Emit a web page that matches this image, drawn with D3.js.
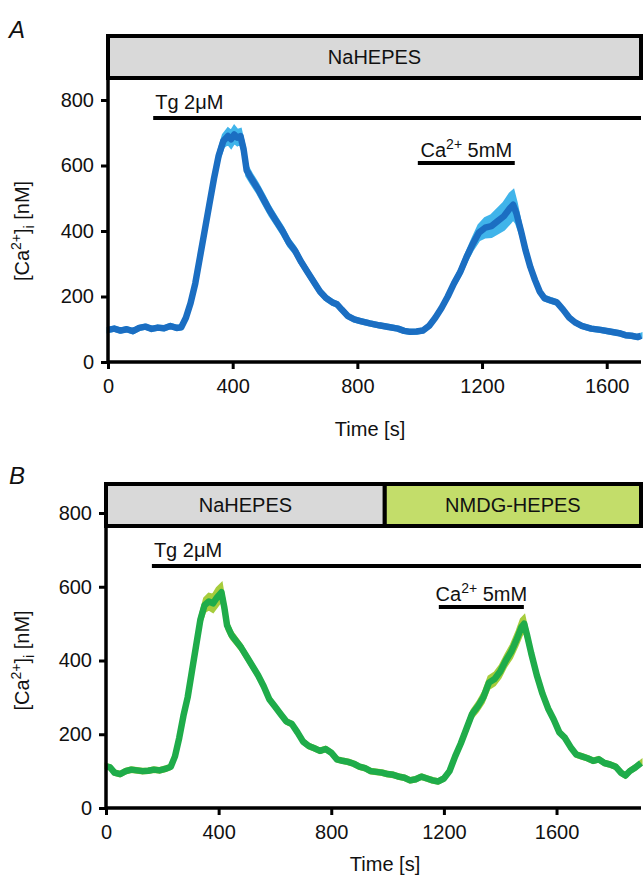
<!DOCTYPE html>
<html>
<head>
<meta charset="utf-8">
<script src="https://cdn.jsdelivr.net/npm/d3@7"></script>
<style>
  body { margin: 0; background: #fff; }
  svg text { font-family: "Liberation Sans", Arial, sans-serif; fill: #111; }
</style>
</head>
<body>
<div id="chart"></div>
<script>
// Panel A: NaHEPES throughout
var timeA = [0, 20, 40, 60, 80, 100, 120, 140, 160, 180, 200, 220, 235, 250, 265, 280, 295, 310, 325, 340,
  355, 370, 385, 395, 405, 415, 425, 435, 445, 460, 480, 500, 520, 540, 560, 580, 600, 620, 640, 660,
  680, 700, 720, 735, 750, 770, 790, 810, 840, 870, 900, 930, 950, 970, 990, 1010, 1030, 1050, 1070, 1090,
  1110, 1130, 1150, 1170, 1190, 1210, 1230, 1250, 1270, 1290, 1300, 1310, 1325, 1340, 1355, 1370, 1385, 1400, 1420, 1440,
  1460, 1480, 1500, 1520, 1550, 1580, 1610, 1640, 1660, 1680, 1700, 1710];
var caA = [98, 102, 96, 100, 94, 104, 108, 101, 105, 103, 110, 104, 106, 135, 180, 240, 320, 400, 480, 560,
  630, 675, 690, 680, 695, 685, 690, 650, 585, 560, 530, 495, 460, 430, 400, 365, 340, 305, 275, 245,
  215, 195, 182, 176, 160, 140, 130, 125, 118, 112, 107, 102, 95, 92, 93, 96, 110, 135, 165, 200,
  240, 275, 320, 360, 395, 410, 415, 430, 445, 470, 480, 455, 400, 340, 290, 250, 215, 195, 188, 182,
  160, 135, 120, 110, 102, 98, 93, 88, 82, 80, 76, 80];
var semA = [5, 5, 5, 5, 5, 5, 5, 5, 5, 5, 5, 5, 5, 5, 6, 6, 7, 8, 9, 10,
  14, 18, 22, 24, 24, 22, 20, 18, 16, 15, 14, 14, 13, 12, 12, 11, 10, 9, 8, 8,
  7, 7, 6, 6, 6, 5, 5, 5, 5, 5, 5, 5, 5, 5, 5, 5, 5, 6, 6, 7,
  8, 10, 12, 16, 22, 28, 32, 36, 40, 44, 42, 30, 15, 10, 8, 7, 6, 6, 6, 6,
  5, 5, 5, 5, 5, 5, 5, 5, 5, 5, 5, 5];

// Panel B: NaHEPES then NMDG-HEPES
var timeB = [0, 15, 30, 50, 70, 90, 110, 130, 150, 170, 190, 210, 230, 245, 260, 275, 290, 305, 320, 335,
  350, 365, 380, 395, 410, 420, 430, 445, 460, 480, 500, 520, 540, 560, 580, 600, 620, 640, 660, 680,
  700, 720, 740, 760, 780, 800, 820, 840, 860, 880, 900, 920, 940, 960, 980, 1000, 1020, 1040, 1060, 1080,
  1100, 1120, 1140, 1160, 1180, 1200, 1220, 1240, 1260, 1280, 1300, 1320, 1340, 1360, 1380, 1400, 1420, 1440, 1460, 1475,
  1485, 1495, 1510, 1530, 1550, 1570, 1590, 1610, 1630, 1650, 1670, 1690, 1710, 1730, 1750, 1770, 1790, 1810, 1830, 1845,
  1860, 1880, 1900];
var caB = [113, 110, 96, 92, 100, 104, 102, 100, 101, 104, 102, 106, 112, 140, 190, 250, 300, 370, 440, 510,
  550, 560, 555, 572, 585, 545, 495, 470, 455, 435, 410, 385, 360, 330, 295, 275, 255, 235, 228, 205,
  180, 168, 162, 155, 160, 150, 132, 128, 125, 120, 112, 108, 100, 98, 96, 92, 90, 85, 82, 75,
  78, 85, 80, 75, 72, 80, 100, 140, 175, 215, 255, 275, 300, 340, 350, 370, 400, 425, 460, 490,
  500, 470, 420, 360, 310, 270, 240, 205, 190, 165, 145, 140, 135, 128, 132, 122, 118, 112, 95, 88,
  100, 110, 122];
var semB = [5, 5, 5, 5, 5, 5, 5, 5, 5, 5, 5, 5, 5, 5, 6, 6, 7, 8, 10, 14,
  18, 20, 22, 24, 22, 16, 12, 10, 9, 8, 7, 7, 6, 6, 6, 5, 5, 5, 5, 5,
  5, 5, 5, 5, 5, 5, 5, 5, 5, 5, 5, 5, 5, 5, 5, 5, 5, 5, 5, 5,
  5, 5, 5, 5, 5, 5, 6, 6, 7, 8, 10, 12, 14, 16, 16, 16, 16, 18, 20, 22,
  20, 14, 10, 8, 7, 6, 6, 5, 5, 5, 5, 5, 5, 5, 5, 5, 5, 5, 5, 5,
  5, 5, 5];

var yTicks = [0, 200, 400, 600, 800];
var xTicks = [0, 400, 800, 1200, 1600];

var width = 644, height = 879;
var fs = "20px";
var svg = d3.select("#chart").append("svg")
  .attr("width", width)
  .attr("height", height);

function drawPanel(p) {
  var x = d3.scaleLinear().domain([0, p.xMax]).range([p.left, 641]);
  var y = d3.scaleLinear().domain([0, 800]).range([p.bottom, p.top800]);
  var g = svg.append("g");

  // panel letter
  g.append("text")
    .attr("x", 9).attr("y", p.letterY)
    .style("font-size", "24px").style("font-style", "italic")
    .text(p.letter);

  // solution boxes
  p.boxes.forEach(function(b) {
    var x0 = x(b.from), x1 = Math.min(x(b.to), 641);
    g.append("rect")
      .attr("x", x0).attr("y", p.boxTop)
      .attr("width", x1 - x0).attr("height", p.boxH)
      .attr("fill", b.color)
      .attr("stroke", "#000").attr("stroke-width", 4);
    g.append("text")
      .attr("x", (x0 + x1) / 2).attr("y", p.boxTop + p.boxH / 2 + 7)
      .attr("text-anchor", "middle")
      .style("font-size", fs)
      .text(b.name);
  });

  // band then mean trace
  var data = p.time.map(function(t, i) { return {t: t, v: p.ca[i], s: p.sem[i]}; });
  g.append("path")
    .datum(data)
    .attr("fill", p.bandColor)
    .attr("stroke", p.bandColor)
    .attr("stroke-width", 3)
    .attr("d", d3.area()
      .x(function(d) { return x(d.t); })
      .y0(function(d) { return y(d.v - d.s); })
      .y1(function(d) { return y(d.v + d.s); }));
  g.append("path")
    .datum(data)
    .attr("fill", "none")
    .attr("stroke", p.lineColor)
    .attr("stroke-width", 6.5)
    .attr("stroke-linejoin", "round")
    .attr("d", d3.line()
      .x(function(d) { return x(d.t); })
      .y(function(d) { return y(d.v); }));

  // Tg bar
  g.append("line")
    .attr("x1", x(p.tgStart)).attr("x2", 641)
    .attr("y1", p.tgY).attr("y2", p.tgY)
    .attr("stroke", "#000").attr("stroke-width", 4);
  g.append("text")
    .attr("x", x(p.tgStart) + 2).attr("y", p.tgY - 9)
    .style("font-size", fs)
    .text("Tg 2\u03BCM");

  // Ca bar
  g.append("line")
    .attr("x1", x(p.caStart)).attr("x2", x(p.caEnd))
    .attr("y1", p.caY).attr("y2", p.caY)
    .attr("stroke", "#000").attr("stroke-width", 4);
  var ct = g.append("text")
    .attr("x", (x(p.caStart) + x(p.caEnd)) / 2).attr("y", p.caY - 6)
    .attr("text-anchor", "middle")
    .style("font-size", fs);
  ct.append("tspan").text("Ca");
  ct.append("tspan").attr("dy", -8).style("font-size", "14px").text("2+");
  ct.append("tspan").attr("dy", 8).text(" 5mM");

  // axes
  var xAxis = g.append("g")
    .attr("transform", "translate(0," + p.bottom + ")")
    .call(d3.axisBottom(x).tickValues(xTicks).tickFormat(d3.format("d"))
      .tickSize(7).tickPadding(10).tickSizeOuter(0));
  var yAxis = g.append("g")
    .attr("transform", "translate(" + p.left + ",0)")
    .call(d3.axisLeft(y).tickValues(yTicks).tickSize(7).tickPadding(7).tickSizeOuter(0));
  [xAxis, yAxis].forEach(function(a) {
    a.select(".domain").attr("stroke", "#000").attr("stroke-width", 3.5);
    a.selectAll(".tick line").attr("stroke", "#000").attr("stroke-width", 3);
    a.selectAll(".tick text").style("font-size", fs).attr("fill", "#111");
  });
  yAxis.select(".domain").attr("d", "M0," + p.bottom + "V" + (p.boxTop + p.boxH - 10));
  xAxis.select(".domain").attr("d", "M" + p.left + ",0H641");

  // axis titles
  g.append("text")
    .attr("x", p.titleX).attr("y", p.titleY)
    .attr("text-anchor", "middle")
    .style("font-size", fs)
    .text("Time [s]");
  var yl = g.append("text")
    .attr("transform", "translate(29," + y(400) + ") rotate(-90)")
    .attr("text-anchor", "middle")
    .style("font-size", fs);
  yl.append("tspan").text("[Ca");
  yl.append("tspan").attr("dy", -8).style("font-size", "14px").text("2+");
  yl.append("tspan").attr("dy", 8).text("]");
  yl.append("tspan").attr("dy", 5).style("font-size", "14px").text("i");
  yl.append("tspan").attr("dy", -5).text(" [nM]");
}

drawPanel({
  letter: "A", letterY: 38,
  time: timeA, ca: caA, sem: semA,
  xMax: 1710, left: 108, bottom: 362, top800: 100,
  boxTop: 36, boxH: 42,
  boxes: [{from: 0, to: 1710, name: "NaHEPES", color: "#d9d9d9"}],
  lineColor: "#1b6ec2", bandColor: "#40b4ea",
  tgStart: 145, tgY: 118,
  caStart: 994, caEnd: 1305, caY: 163,
  titleX: 370, titleY: 436
});

drawPanel({
  letter: "B", letterY: 484,
  time: timeB, ca: caB, sem: semB,
  xMax: 1900, left: 106, bottom: 808, top800: 513,
  boxTop: 484, boxH: 42,
  boxes: [{from: 0, to: 990, name: "NaHEPES", color: "#d9d9d9"},
          {from: 990, to: 1900, name: "NMDG-HEPES", color: "#c3dd6a"}],
  lineColor: "#1fac4a", bandColor: "#a6cc3c",
  tgStart: 163, tgY: 566,
  caStart: 1182, caEnd: 1484, caY: 607,
  titleX: 385, titleY: 871
});
</script>
</body>
</html>
